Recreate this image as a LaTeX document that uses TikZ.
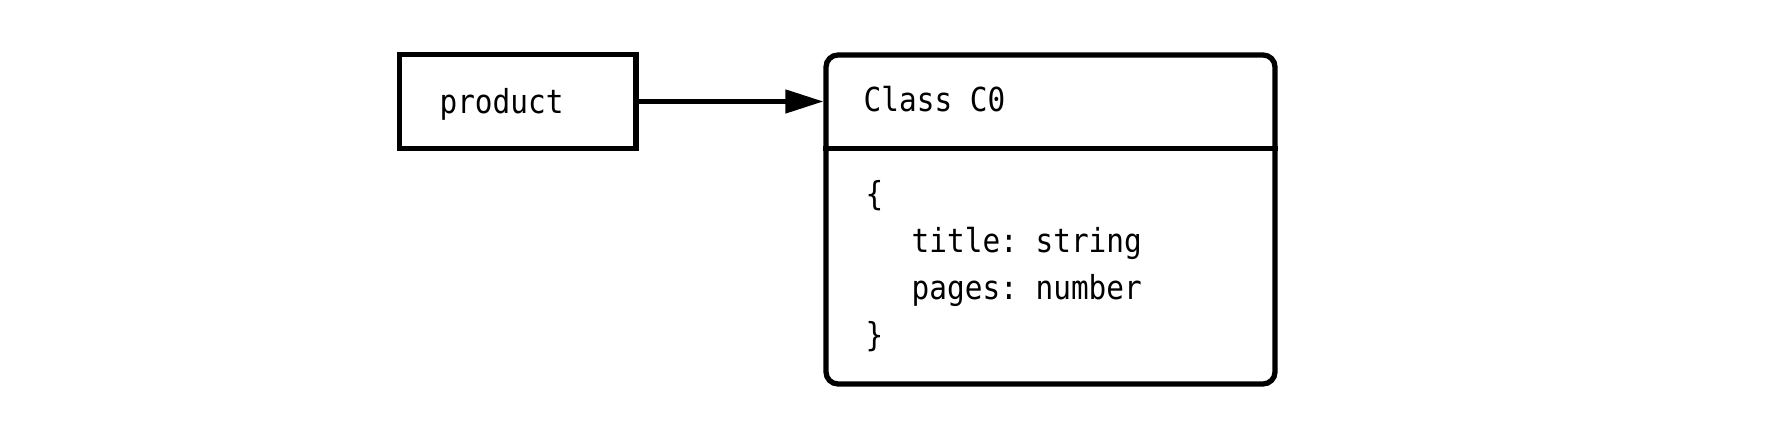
\documentclass[tikz,border=0pt]{standalone}
\usepackage{fontspec}
\setmonofont[FakeStretch=0.89]{DejaVu Sans Mono}
\usetikzlibrary{arrows.meta}

\begin{document}
\begin{tikzpicture}[
    box/.style={draw=black, line width=1.5pt, inner sep=0pt},
    code/.style={font=\ttfamily\fontsize{9.4pt}{13.4pt}\selectfont},
    line/.style={inner sep=0pt, anchor=base west},
]
    \useasboundingbox (0,0) rectangle (17.84,4.28);
    % variable
    \node[box, code, text width=1.565cm, align=left, inner xsep=0.4cm, text height=0.32cm, text depth=0.08cm, minimum height=0.94cm] (prod) at (5.178,3.265) {product};
    % class
    \node[box, rounded corners=0.12cm, minimum width=4.49cm, minimum height=3.29cm] (cls) at (10.505,2.085) {};
    \coordinate (div) at (10.505,2.795);
    \draw[line width=1.5pt] (cls.west |- div) -- (cls.east |- div);
    \node[code, line] (head) at (8.63,3.16) {Class C0};
    \node[code, line] (open) at (8.65,2.22) {\{};
    \node[code, line] (title) at (9.11,1.75) {title: string};
    \node[code, line] (pages) at (9.11,1.28) {pages: number};
    \node[code, line] (close) at (8.65,0.81) {\}};
    \draw[line width=1.3pt, -{Triangle[length=0.38cm,width=0.23cm]}] (prod) -- (prod -| cls.west);
\end{tikzpicture}
\end{document}
